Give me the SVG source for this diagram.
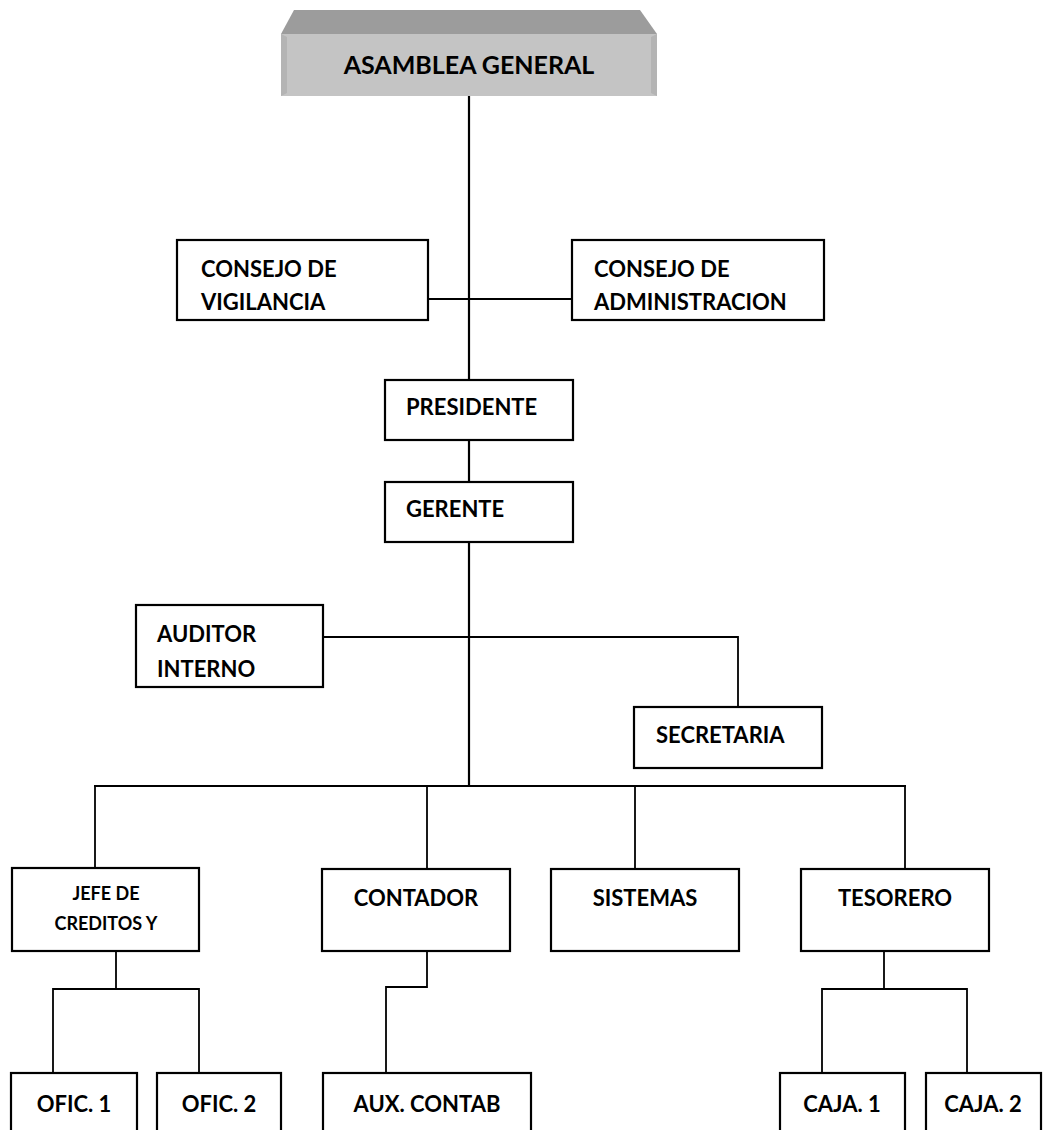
<svg xmlns="http://www.w3.org/2000/svg" width="1046" height="1130" viewBox="0 0 1046 1130">
<style>
  .box { fill: #ffffff; stroke: #000000; stroke-width: 2.2; }
  .shadow { fill: none; stroke: #a8a8a8; stroke-width: 1.5; }
  .t { font-family: Lato, "Open Sans", "Liberation Sans", sans-serif; font-weight: bold; font-size: 22px; fill: #000000; }
  .c { text-anchor: middle; }
  .small { font-size: 18px; }
  .big { font-size: 25px; }
  .ln { fill: none; stroke: #000000; stroke-width: 1.8; }
  .spine { fill: none; stroke: #000000; stroke-width: 2.2; }
</style>
<rect width="1046" height="1130" fill="#ffffff"/>

<g id="connectors">
  <line class="spine" x1="469" y1="96" x2="469" y2="380"/>
  <line class="spine" x1="469" y1="440" x2="469" y2="482"/>
  <line class="spine" x1="469" y1="542" x2="469" y2="786"/>
  <line class="ln" x1="428" y1="299" x2="572" y2="299"/>
  <polyline class="ln" points="323,637 738,637 738,707"/>
  <line class="ln" x1="94" y1="786" x2="906" y2="786"/>
  <line class="ln" x1="95" y1="786" x2="95" y2="868"/>
  <line class="ln" x1="427" y1="786" x2="427" y2="869"/>
  <line class="ln" x1="635" y1="786" x2="635" y2="869"/>
  <line class="ln" x1="905" y1="786" x2="905" y2="869"/>
  <line class="ln" x1="116" y1="951" x2="116" y2="989"/>
  <polyline class="ln" points="53,1073 53,989 199,989 199,1073"/>
  <polyline class="ln" points="427,951 427,987 386,987 386,1073"/>
  <line class="ln" x1="884" y1="951" x2="884" y2="989"/>
  <polyline class="ln" points="822,1073 822,989 967,989 967,1073"/>
</g>

<g id="asamblea-general">
  <polygon points="281,34 294,10 640,10 657,34" fill="#9c9c9c"/>
  <rect x="281" y="34" width="376" height="62" fill="#c4c4c4"/>
  <polygon points="281,34 287,37 287,93 281,96" fill="#b4b4b4"/>
  <polygon points="657,34 651,37 651,93 657,96" fill="#b4b4b4"/>
  <text class="t big c" x="469" y="74">ASAMBLEA GENERAL</text>
</g>

<g id="consejo-vigilancia">
  <rect class="box" x="177" y="240" width="251" height="80"/>
  <text class="t" x="201" y="277">CONSEJO DE</text>
  <text class="t" x="201" y="310">VIGILANCIA</text>
</g>

<g id="consejo-administracion">
  <rect class="box" x="572" y="240" width="252" height="80"/>
  <text class="t" x="594" y="277">CONSEJO DE</text>
  <text class="t" x="594" y="310">ADMINISTRACION</text>
</g>

<g id="presidente">
  <rect class="box" x="385" y="380" width="188" height="60"/>
  <text class="t" x="406" y="415">PRESIDENTE</text>
</g>

<g id="gerente">
  <rect class="box" x="385" y="482" width="188" height="60"/>
  <text class="t" x="406" y="517">GERENTE</text>
</g>

<g id="auditor-interno">
  <rect class="box" x="136" y="605" width="187" height="82"/>
  <text class="t" x="157" y="642">AUDITOR</text>
  <text class="t" x="157" y="677">INTERNO</text>
</g>

<g id="secretaria">
  <rect class="box" x="634" y="707" width="188" height="61"/>
  <text class="t" x="656" y="743">SECRETARIA</text>
</g>

<g id="jefe-creditos">
  <rect class="box" x="12" y="868" width="187" height="83"/>
  <text class="t small c" x="106" y="900">JEFE DE</text>
  <text class="t small c" x="106" y="930">CREDITOS Y</text>
</g>

<g id="contador">
  <rect class="box" x="322" y="869" width="188" height="82"/>
  <text class="t c" x="416" y="906">CONTADOR</text>
</g>

<g id="sistemas">
  <rect class="box" x="551" y="869" width="188" height="82"/>
  <text class="t c" x="645" y="906">SISTEMAS</text>
</g>

<g id="tesorero">
  <rect class="box" x="801" y="869" width="188" height="82"/>
  <text class="t c" x="895" y="906">TESORERO</text>
</g>

<g id="ofic-1">
  <rect class="box" x="11" y="1073" width="126" height="80"/>
  <text class="t c" x="74" y="1112">OFIC. 1</text>
</g>

<g id="ofic-2">
  <rect class="box" x="157" y="1073" width="124" height="80"/>
  <text class="t c" x="219" y="1112">OFIC. 2</text>
</g>

<g id="aux-contab">
  <rect class="box" x="323" y="1073" width="208" height="80"/>
  <text class="t c" x="427" y="1112">AUX. CONTAB</text>
</g>

<g id="caja-1">
  <rect class="box" x="780" y="1073" width="125" height="80"/>
  <text class="t c" x="842" y="1112">CAJA. 1</text>
</g>

<g id="caja-2">
  <rect class="box" x="926" y="1073" width="115" height="80"/>
  <text class="t c" x="983" y="1112">CAJA. 2</text>
</g>
</svg>
